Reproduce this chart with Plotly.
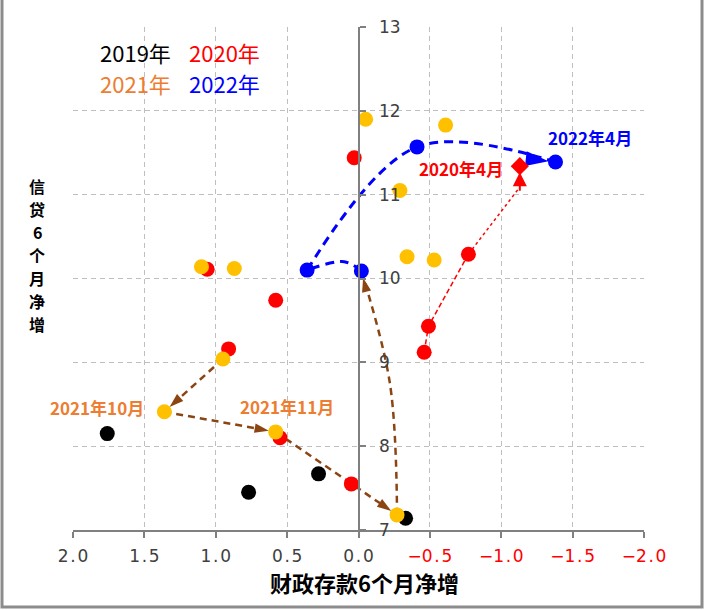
import plotly.graph_objects as go

# 财政存款6个月净增 (x) / 信贷6个月净增 (y)
x2019 = [1.76, 0.77, 0.28, -0.33]
y2019 = [8.15, 7.45, 7.67, 7.14]

x2020 = [0.03, 1.06, 0.58, 0.91, 0.55, 0.05, -0.46, -0.49, -0.77]
y2020 = [11.44, 10.11, 9.74, 9.16, 8.10, 7.55, 9.12, 9.43, 10.29]
x2020_apr = [-1.13]
y2020_apr = [11.34]

x2021 = [-0.05, -0.61, -0.29, -0.34, -0.53, 1.10, 0.87, 0.95, 1.36, 0.58, -0.27]
y2021 = [11.90, 11.83, 11.05, 10.26, 10.22, 10.14, 10.12, 9.04, 8.41, 8.17, 7.18]

x2022 = [-0.02, 0.36, -0.41, -1.38]
y2022 = [10.09, 10.10, 11.57, 11.39]

# order of points along the arrows (indexes into the arrays above)
path2020 = [6, 7, 8]
path2021 = [7, 8, 9, 10]
path2022 = [1, 2, 3]
# bend points for the curved arrows
bend2022_x, bend2022_y = [0.10], [10.20]
bend2021_x, bend2021_y = [-0.22], [8.75]

xticks = [2.0, 1.5, 1.0, 0.5, 0.0, -0.5, -1.0, -1.5, -2.0]
yticks = [7, 8, 9, 10, 11, 12, 13]

RED, BLUE, BLACK = "#FF0000", "#0000FF", "#000000"
YELLOW, ORANGE, BROWN = "#FFC000", "#ED7D31", "#8B4513"
FONT = "Noto Sans CJK SC"


def tick_label(v):
    s = "%.1f" % abs(v)
    s = s.replace(".", "\u200a.\u200a")
    if v < 0:
        return '<span style="color:red">\u2212' + s + "</span>"
    return s


def arrow_marker(n, size):
    # invisible markers except an arrow head on the last point
    return dict(symbol=["circle"] * (n - 1) + ["arrow"], size=[0] * (n - 1) + [size],
                angleref="previous", standoff=7, opacity=1, line=dict(width=0))


fig = go.Figure()

# red 2020 path: dashed, then dotted up to 2020年4月
rx = [x2020[i] for i in path2020]
ry = [y2020[i] for i in path2020]
fig.add_trace(go.Scatter(x=rx, y=ry, mode="lines",
                         line=dict(color=RED, width=1.5, dash="5px,3px")))
fig.add_trace(go.Scatter(x=[rx[-1], x2020_apr[0]], y=[ry[-1], y2020_apr[0] - 0.25],
                         mode="lines", line=dict(color=RED, width=1.5, dash="dot")))

# brown 2021 path, one segment per month
bx = [x2021[i] for i in path2021] + bend2021_x + [x2022[0]]
by = [y2021[i] for i in path2021] + bend2021_y + [y2022[0]]
segments = [(0, 2), (1, 3), (2, 4), (3, 6)]
for a, b in segments:
    m = arrow_marker(b - a, 15)
    m["color"] = BROWN
    fig.add_trace(go.Scatter(
        x=bx[a:b], y=by[a:b], mode="lines+markers",
        line=dict(color=BROWN, width=2.5, dash="7px,5px",
                  shape="spline" if b - a > 2 else "linear"),
        marker=m))

# blue 2022 paths
fig.add_trace(go.Scatter(
    x=[x2022[0]] + bend2022_x + [x2022[1]], y=[y2022[0]] + bend2022_y + [y2022[1]],
    mode="lines", line=dict(color=BLUE, width=3, dash="9px,6px", shape="spline")))
gx = [x2022[i] for i in path2022]
gy = [y2022[i] for i in path2022]
m = arrow_marker(len(gx), 24)
m["color"] = BLUE
fig.add_trace(go.Scatter(
    x=gx, y=gy, mode="lines+markers",
    line=dict(color=BLUE, width=3, dash="9px,6px", shape="spline"), marker=m))

# points
for xs, ys, c in [(x2019, y2019, BLACK), (x2020, y2020, RED),
                  (x2021, y2021, YELLOW), (x2022, y2022, BLUE)]:
    fig.add_trace(go.Scatter(x=xs, y=ys, mode="markers",
                             marker=dict(color=c, size=15, line=dict(width=0))))
fig.add_trace(go.Scatter(x=x2020_apr, y=y2020_apr, mode="markers",
                         marker=dict(symbol="diamond", color=RED, size=14)))

annotations = [
    # arrow into 2020年4月
    dict(x=x2020_apr[0], y=y2020_apr[0], ax=0, ay=26, showarrow=True, arrowhead=2,
         arrowsize=1.4, arrowwidth=2, arrowcolor=RED, standoff=6, text=""),
    dict(x=x2022[-1], y=y2022[-1], text="<b>2022年4月</b>", showarrow=False,
         xshift=34, yshift=24, font=dict(family=FONT, size=17, color=BLUE)),
    dict(x=x2020_apr[0], y=y2020_apr[0], text="<b>2020年4月</b>", showarrow=False,
         xanchor="right", xshift=-15, yshift=-2, font=dict(family=FONT, size=17, color=RED)),
    dict(x=x2021[8], y=y2021[8], text="<b>2021年10月</b>", showarrow=False,
         xanchor="right", xshift=-18, yshift=4, font=dict(family=FONT, size=17, color=ORANGE)),
    dict(x=x2021[9], y=y2021[9], text="<b>2021年11月</b>", showarrow=False,
         xshift=11, yshift=25, font=dict(family=FONT, size=17, color=ORANGE)),
    # x axis title
    dict(x=0.51, y=-0.104, xref="paper", yref="paper", xanchor="center", yanchor="middle",
         text="<b>财政存款6个月净增</b>",
         showarrow=False, font=dict(family=FONT, size=22, color=BLACK)),
]

# year key
for txt, col, px, py in [("2019年", BLACK, 0.044, 0.950), ("2020年", RED, 0.200, 0.950),
                         ("2021年", ORANGE, 0.044, 0.889), ("2022年", BLUE, 0.200, 0.889)]:
    annotations.append(dict(x=px, y=py, xref="paper", yref="paper", xanchor="left",
                            yanchor="middle", text=txt, showarrow=False,
                            font=dict(family=FONT, size=22, color=col)))

# y axis title, characters stacked vertically
ytitle = "信贷6个月净增"
pitch = 23
for k, ch in enumerate(ytitle):
    annotations.append(dict(x=-0.063, y=0.547, xref="paper", yref="paper",
                            xanchor="center", yanchor="middle", showarrow=False,
                            yshift=(len(ytitle) - 1) / 2 * pitch - k * pitch,
                            text="<b>" + ch + "</b>", borderpad=0,
                            font=dict(family=FONT, size=16, color=BLACK)))

W, H = 705, 610
ml, mr, mt, mb = 73, 61, 27, 80
pw, ph = W - ml - mr, H - mt - mb

fig.update_layout(
    width=W, height=H, margin=dict(l=ml, r=mr, t=mt, b=mb),
    paper_bgcolor="white", plot_bgcolor="white", showlegend=False,
    annotations=annotations,
    shapes=[dict(type="rect", xref="paper", yref="paper",
                 x0=(2 - ml) / pw, x1=(W - 3 - ml) / pw,
                 y0=-(mb - 3) / ph, y1=(H - mt - 2) / ph,
                 line=dict(color="#8C8C8C", width=3))],
    xaxis=dict(range=[2.0, -2.0], tickvals=xticks, ticktext=[tick_label(v) for v in xticks],
               showgrid=True, gridcolor="#BFBFBF", griddash="5px,4px", gridwidth=1,
               showline=True, linecolor="#808080", linewidth=2, zeroline=False,
               ticks="outside", ticklen=6, tickwidth=2, tickcolor="#808080",
               ticklabelstandoff=4,
               tickfont=dict(family="DejaVu Sans", size=17, color="#404040")),
    yaxis=dict(range=[7, 13], tickvals=yticks, anchor="free", position=0.5, side="right",
               showgrid=True, gridcolor="#BFBFBF", griddash="5px,4px", gridwidth=1,
               showline=True, linecolor="#808080", linewidth=2, zeroline=False,
               ticks="outside", ticklen=6, tickwidth=2, tickcolor="#808080",
               ticklabelstandoff=10,
               tickfont=dict(family="DejaVu Sans", size=17, color="#404040")),
)

fig.write_html("out.html", config={"displayModeBar": False},
               post_script="document.body.style.margin='0';")
